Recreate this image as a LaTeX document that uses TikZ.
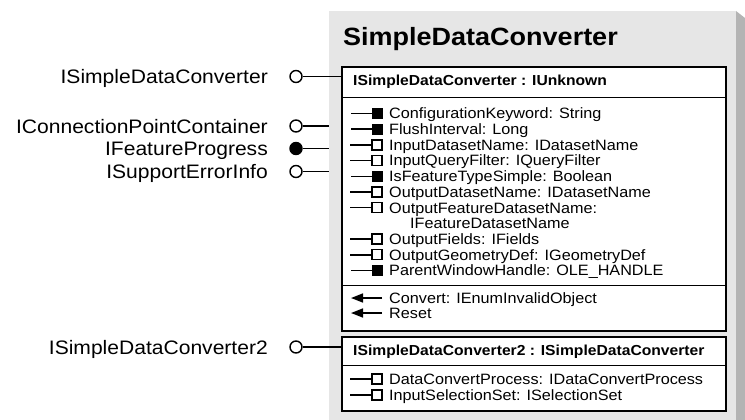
\documentclass[tikz,border=0pt]{standalone}
\usepackage{fontspec}
\setmainfont[FakeStretch=1.08]{Liberation Sans}
\usetikzlibrary{arrows.meta}

\definecolor{panelgray}{RGB}{230,230,230}
\definecolor{shadowgray}{RGB}{180,180,180}

\tikzset{
	rowtext/.style={anchor=base west, inner sep=0pt, font=\fontsize{15}{16}\selectfont},
	headtext/.style={anchor=base west, inner sep=0pt, font=\fontsize{14.5}{16}\selectfont\bfseries},
	lbltext/.style={anchor=base east, inner sep=0pt, font=\fontsize{19.5}{22}\selectfont},
	plug/.style={circle, draw, line width=1.4pt, minimum size=12pt, inner sep=0pt, fill=white},
	solidpin/.style={draw, fill=black, minimum size=10pt, inner sep=0pt},
	openpin/.style={draw, fill=white, line width=1.3pt, minimum size=10pt, inner sep=0pt},
	ifbox/.style={draw, line width=1.6pt, fill=white, anchor=north west, inner sep=0pt, minimum width=384pt},
}

\begin{document}
\begin{tikzpicture}[x=1pt,y=1pt]
	\useasboundingbox (0,0) rectangle (745,-420);

	% panel with shadow
	\fill[shadowgray] (736,-11) -- (745,-18) -- (745,-420) -- (736,-420) -- cycle;
	\fill[panelgray] (329,-11) rectangle (736,-420);
	\coordinate (edge) at (329,0);
	\node[anchor=base west, inner sep=0pt, font=\fontsize{25}{28}\selectfont\bfseries] (title) at (343,-46) {SimpleDataConverter};

	% interface boxes
	\node[ifbox, minimum height=264pt] (box1) at (341,-66) {};
	\node[ifbox, minimum height=74pt] (box2) at (341,-336) {};
	\draw (box1.west |- 0,-97) -- (box1.east |- 0,-97);
	\draw (box1.west |- 0,-285) -- (box1.east |- 0,-285);
	\draw (box2.west |- 0,-365) -- (box2.east |- 0,-365);
	\node[headtext] (head1) at (353,-86) {ISimpleDataConverter : IUnknown};
	\node[headtext] (head2) at (353,-355) {ISimpleDataConverter2 : ISimpleDataConverter};

	% properties
	\foreach \y/\kind/\txt [count=\i] in {113.5/solidpin/{ConfigurationKeyword: String},
		129.2/solidpin/{FlushInterval: Long},
		144.9/openpin/{InputDatasetName: IDatasetName},
		160.6/openpin/{InputQueryFilter: IQueryFilter},
		176.3/solidpin/{IsFeatureTypeSimple: Boolean},
		192/openpin/{OutputDatasetName: IDatasetName},
		207.7/openpin/{OutputFeatureDatasetName:},
		239.1/openpin/{OutputFields: IFields},
		254.8/openpin/{OutputGeometryDef: IGeometryDef},
		270.5/solidpin/{ParentWindowHandle: OLE\_HANDLE},
		379/openpin/{DataConvertProcess: IDataConvertProcess},
		395/openpin/{InputSelectionSet: ISelectionSet}} {{
		\node[\kind] (pin\i) at (377,-\y) {};
		\draw[line width=1.5pt] (pin\i.west) -- ++(-21,0);
		\node[rowtext] (prop\i) at (389,{-\y-5.3}) {\txt};
	}}
	\node[rowtext] (prop7b) at (410,-228.7) {IFeatureDatasetName};

	% methods
	\foreach \y/\txt [count=\i] in {298/{Convert: IEnumInvalidObject}, 313/{Reset}} {{
		\draw[line width=1.6pt, -{Triangle[length=12pt,width=9pt]}] (382,-\y) -- (351,-\y);
		\node[rowtext] (meth\i) at (389,{-\y-5.3}) {\txt};
	}}

	% lollipops
	\node[plug] (plug1) at (296,-76.5) {};
	\node[plug] (plug2) at (296,-126) {};
	\node[plug, fill=black] (plug3) at (296,-148.5) {};
	\node[plug] (plug4) at (296,-171.5) {};
	\node[plug] (plug5) at (296,-347) {};
	\node[lbltext] (lbl1) at (268,-83.5) {ISimpleDataConverter};
	\node[lbltext] (lbl2) at (268,-133) {IConnectionPointContainer};
	\node[lbltext] (lbl3) at (268,-155.5) {IFeatureProgress};
	\node[lbltext] (lbl4) at (268,-178.5) {ISupportErrorInfo};
	\node[lbltext] (lbl5) at (268,-354) {ISimpleDataConverter2};
	\draw[line width=1.5pt] (plug1) -- (plug1 -| box1.west);
	\draw[line width=1.5pt] (plug2) -- (plug2 -| edge);
	\draw[line width=1.5pt] (plug3) -- (plug3 -| edge);
	\draw[line width=1.5pt] (plug4) -- (plug4 -| edge);
	\draw[line width=1.5pt] (plug5) -- (plug5 -| box2.west);
\end{tikzpicture}
\end{document}
